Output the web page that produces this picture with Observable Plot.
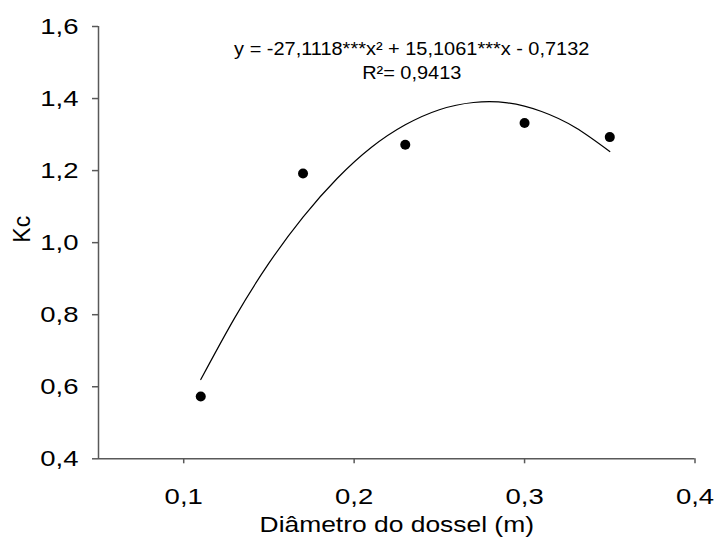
<!DOCTYPE html>
<html>
<head>
<meta charset="utf-8">
<script src="https://cdn.jsdelivr.net/npm/d3@7"></script>
<script src="https://cdn.jsdelivr.net/npm/@observablehq/plot@0.6"></script>
<style>
  html, body { margin: 0; padding: 0; background: #fff; }
</style>
</head>
<body>
<div id="chart"></div>
<script>
// Observed data
const diametro = [0.11, 0.17, 0.23, 0.30, 0.35];
const kc = [0.573, 1.192, 1.272, 1.332, 1.293];

// Fitted curve points
const fitX = [0.11, 0.13, 0.15, 0.17, 0.19, 0.21, 0.23, 0.25, 0.27, 0.29, 0.31, 0.33, 0.35];
const fitY = [0.620, 0.792, 0.943, 1.071, 1.178, 1.264, 1.327, 1.369, 1.389, 1.388, 1.364, 1.319, 1.253];

// Axis ticks
const xTicks = [0.1, 0.2, 0.3, 0.4];
const yTicks = [0.4, 0.6, 0.8, 1.0, 1.2, 1.4, 1.6];

// Labels
const xLabel = "Diâmetro do dossel (m)";
const yLabel = "Kc";
const equation = "y = -27,1118***x² + 15,1061***x - 0,7132\nR²= 0,9413";

const fmt = d => d.toFixed(1).replace(".", ",");
const axisColor = "#595959";

const chart = Plot.plot({
  width: 715,
  height: 537,
  marginLeft: 98,
  marginRight: 20.5,
  marginTop: 26,
  marginBottom: 78.7,
  style: { fontFamily: "'Liberation Sans', Arial, sans-serif", background: "#fff", color: "#000" },
  x: { domain: [0.05, 0.4] },
  y: { domain: [0.4, 1.6] },
  marks: [
    Plot.axisX({ ticks: xTicks, tickFormat: fmt, tickSize: 5, tickPadding: 25, fontSize: 22, label: null, stroke: axisColor, fill: "#000", strokeWidth: 1.5 }),
    Plot.axisY({ ticks: yTicks, tickFormat: fmt, tickSize: 6, tickPadding: 14, fontSize: 22, label: null, stroke: axisColor, fill: "#000", strokeWidth: 1.5 }),
    Plot.ruleX([0.05], { stroke: axisColor, strokeWidth: 1.5 }),
    Plot.ruleY([0.4], { stroke: axisColor, strokeWidth: 1.5 }),
    Plot.line(fitX, { x: fitX, y: fitY, curve: "natural", stroke: "#000", strokeWidth: 1.2 }),
    Plot.dot(diametro, { x: diametro, y: kc, r: 5, fill: "#000", stroke: null }),
    Plot.text([equation], { frameAnchor: "top", lineAnchor: "middle", dx: 15, dy: 32.5, fontSize: 17.5, lineHeight: 1.37, fill: "#000" }),
    Plot.text([xLabel], { frameAnchor: "bottom", lineAnchor: "middle", dy: 66, fontSize: 22, fill: "#000" }),
    Plot.text([yLabel], { frameAnchor: "left", lineAnchor: "middle", dx: -76, rotate: -90, fontSize: 23, fill: "#000" })
  ]
});
document.getElementById("chart").appendChild(chart);

// Reference typography is horizontally widened; stretch glyphs to match.
function widen(el, f) {
  const len = el.getComputedTextLength();
  if (len > 0) {
    el.setAttribute("textLength", (len * f).toFixed(2));
    el.setAttribute("lengthAdjust", "spacingAndGlyphs");
  }
}
function widenGroup(g, f) {
  g.querySelectorAll("text").forEach(t => {
    const parts = t.querySelectorAll("tspan");
    (parts.length ? Array.from(parts) : [t]).forEach(el => widen(el, f));
  });
}
chart.querySelectorAll('g[aria-label="x-axis tick label"], g[aria-label="y-axis tick label"]').forEach(g => widenGroup(g, 1.25));
const textGroups = chart.querySelectorAll('g[aria-label="text"]');
const textStretch = [1.14, 1.2, 1.0]; // equation, x title, y title
textGroups.forEach((g, i) => widenGroup(g, textStretch[i] || 1));
</script>
</body>
</html>
